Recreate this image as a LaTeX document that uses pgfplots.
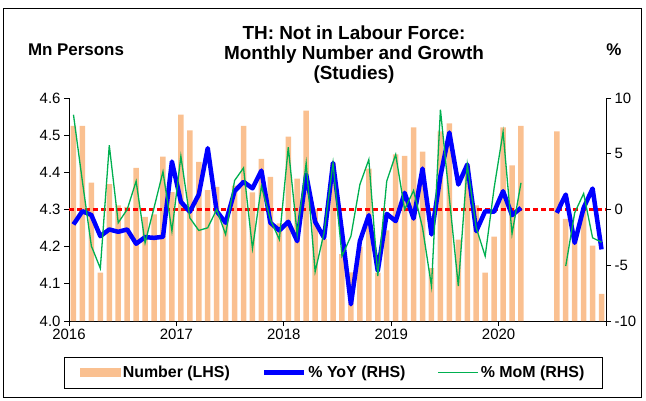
\documentclass[border=0pt]{standalone}
\usepackage{fontspec}
\setmainfont{Liberation Sans}
\usepackage{pgfplots}
\pgfplotsset{compat=1.18}
\usepackage{pgfplotstable}
\definecolor{barc}{HTML}{FAC090}
\definecolor{yoyc}{HTML}{0000FF}
\definecolor{momc}{HTML}{00B050}
\definecolor{zeroc}{HTML}{FF0000}

\pgfplotstableread{
x num
0.5 4.525
1.5 4.525
2.5 4.372
3.5 4.130
4.5 4.368
5.5 4.311
6.5 4.307
7.5 4.412
8.5 4.280
9.5 4.287
10.5 4.442
11.5 4.347
12.5 4.555
13.5 4.513
14.5 4.428
15.5 4.352
16.5 4.361
17.5 4.27
18.5 4.364
19.5 4.525
20.5 4.346
21.5 4.436
22.5 4.388
23.5 4.263
24.5 4.496
25.5 4.383
26.5 4.566
27.5 4.302
28.5 4.22
29.5 4.425
30.5 4.18
31.5 4.131
32.5 4.20
33.5 4.41
34.5 4.13
35.5 4.244
36.5 4.448
37.5 4.444
38.5 4.521
39.5 4.456
40.5 4.142
41.5 4.51
42.5 4.532
43.5 4.219
44.5 4.42
45.5 4.311
46.5 4.130
47.5 4.227
48.5 4.521
49.5 4.419
50.5 4.525
54.5 4.51
55.5 4.275
56.5 4.23
57.5 4.30
58.5 4.203
59.5 4.073
}\numtab

\pgfplotstableread{
x yoy mom
0.5 -1.34 8.5
1.5 -0.15 2.5
2.5 -0.5 -3.28
3.5 -2.39 -5.28
4.5 -1.79 5.76
5.5 -2.0 -1.19
6.5 -1.79 0.0
7.5 -3.07 2.54
8.5 -2.48 -2.99
9.5 -2.54 0.15
10.5 -2.45 3.4
11.5 4.3 -1.94
12.5 0.69 4.78
13.5 -0.2 -0.75
14.5 1.34 -1.88
15.5 5.5 -1.64
16.5 -0.15 0.0
17.5 -1.19 -2.24
18.5 1.64 2.6
19.5 2.48 3.73
20.5 1.9 -3.5
21.5 3.49 2.09
22.5 -1.19 -0.9
23.5 -1.88 -2.69
24.5 -1.1 5.58
25.5 -2.84 -2.24
26.5 3.13 4.18
27.5 -1.1 -5.58
28.5 -2.54 -2.09
29.5 4.18 4.18
30.5 -2.0 -4.18
31.5 -8.5 -2.39
32.5 -2.84 2.24
33.5 -0.51 4.48
34.5 -5.5 -5.97
35.5 -0.39 2.54
36.5 -1.04 4.93
37.5 1.49 0.0
38.5 -0.81 1.7
39.5 3.67 -1.64
40.5 -2.24 -6.87
41.5 3.0 8.96
42.5 6.9 1.0
43.5 2.24 -6.87
44.5 4.03 4.03
45.5 -1.94 -1.64
46.5 -0.15 -4.18
47.5 -0.2 1.94
48.5 1.64 6.96
49.5 -0.51 -2.18
50.5 0.15 2.39
51.5 nan nan
52.5 nan nan
53.5 nan nan
54.5 -0.3 nan
55.5 1.34 -5.07
56.5 -2.99 -0.3
57.5 0.15 1.43
58.5 1.88 -2.54
59.5 -3.58 -2.93
}\rhstab

\pgfplotstableread{
x z
0 0
60 0
}\zerotab

\begin{document}
\begin{tikzpicture}[x=1bp,y=1bp]
\path (0,0) rectangle (646,400);
\draw[line width=0.8bp] (3.5,2.5) rectangle (641,392);

\node[font=\bfseries\fontsize{19}{20}\selectfont, align=center] at (354,345)
  {TH: Not in Labour Force:\\Monthly Number and Growth\\(Studies)};
\node[font=\bfseries\fontsize{17}{20}\selectfont] at (76,350) {Mn Persons};
\node[font=\bfseries\fontsize{17}{20}\selectfont] at (614,350) {\%};

\begin{axis}[
  at={(69bp,79bp)}, anchor=south west,
  scale only axis, width=537bp, height=223bp,
  xmin=0, xmax=60, ymin=4.0, ymax=4.6,
  axis x line*=bottom, axis y line*=left,
  xtick={0,12,24,36,48,60}, xticklabels={2016,2017,2018,2019,2020,{}},
  ytick={4,4.1,4.2,4.3,4.4,4.5,4.6},
  yticklabels={4.0,4.1,4.2,4.3,4.4,4.5,4.6},
  tick align=outside, major tick length=5bp,
  tick style={black, line width=0.8bp},
  axis line style={black, line width=0.8bp},
  ticklabel style={font=\fontsize{15}{18}\selectfont},
  ybar, bar width=5.5bp,
]
\addplot[fill=barc, draw=none] table[x=x,y=num]{\numtab};
\end{axis}

\begin{axis}[
  at={(69bp,79bp)}, anchor=south west,
  scale only axis, width=537bp, height=223bp,
  xmin=0, xmax=60, ymin=-10, ymax=10,
  axis x line=none, axis y line*=right,
  ytick={-10,-5,0,5,10}, yticklabels={-10,-5,0,5,10},
  tick align=outside, major tick length=5bp,
  tick style={black, line width=0.8bp},
  axis line style={black, line width=0.8bp},
  ticklabel style={font=\fontsize{15}{18}\selectfont},
  unbounded coords=jump,
  legend columns=3,
  legend image code/.code={\draw[#1] (0bp,0bp) -- (40bp,0bp);},
  legend style={at={(rel axis cs:0.492,-0.16)}, anchor=north,
    draw=black, line width=0.8bp,
    font=\bfseries\fontsize{16}{19}\selectfont,
    inner xsep=16bp, inner ysep=7bp,
    /tikz/every even column/.append style={column sep=30bp}},
]
\addlegendimage{legend image code/.code={\fill[barc] (0bp,-4bp) rectangle (40bp,4bp);}}
\addlegendentry{Number (LHS)}
\addplot[draw=zeroc, line width=2.5bp, dash pattern=on 5bp off 3bp, forget plot] table[x=x,y=z]{\zerotab};
\addplot[yoyc, line width=4.5bp, line join=round] table[x=x,y=yoy]{\rhstab};
\addlegendentry{\% YoY (RHS)}
\addplot[momc, line width=1.3bp] table[x=x,y=mom]{\rhstab};
\addlegendentry{\% MoM (RHS)}
\end{axis}
\end{tikzpicture}
\end{document}
